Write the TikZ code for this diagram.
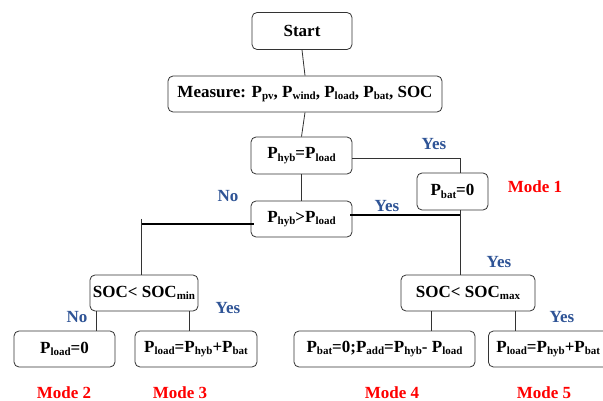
\documentclass[tikz,border=0pt]{standalone}
\usepackage{fontspec}
\setmainfont{Liberation Serif}
\newcommand\subtx[1]{\raisebox{-0.3ex}{\fontsize{11}{11}\selectfont\bfseries #1}}
\definecolor{lblblue}{RGB}{47,84,150}
\begin{document}
\begin{tikzpicture}[x=1pt,y=-1pt,
  box/.style={draw=black!80,line width=0.8pt,rounded corners=5pt,inner sep=0pt,
    font=\fontsize{17}{17}\selectfont\bfseries},
  conn/.style={draw=black!80,line width=0.8pt},
  thick conn/.style={draw=black,line width=1.8pt},
  lbl/.style={text=lblblue,font=\fontsize{17}{17}\selectfont\bfseries,inner sep=0pt},
  mode/.style={text=red,font=\fontsize{17}{17}\selectfont\bfseries,inner sep=0pt}]
\useasboundingbox (0,0) rectangle (603,401);
\clip (0,0) rectangle (603,401);
\fill[white] (0,0) rectangle (603,401);
% nodes
\node[box,minimum width=100pt,minimum height=37pt] (start) at (302,31) {Start};
\node[box,minimum width=274pt,minimum height=36pt] (measure) at (305,94)
  {Measure: P\subtx{pv}, P\subtx{wind}, P\subtx{load}, P\subtx{bat}, SOC};
\node[box,minimum width=101pt,minimum height=37pt] (eq) at (301.5,155.5) {P\subtx{hyb}=P\subtx{load}};
\node[box,minimum width=71pt,minimum height=37pt] (pbat) at (452.5,191.5) {P\subtx{bat}=0};
\node[box,minimum width=101pt,minimum height=36pt] (gt) at (301.5,219) {P\subtx{hyb}>P\subtx{load}};
\node[box,minimum width=108pt,minimum height=36pt] (socmin) at (144,293) {SOC< SOC\subtx{min}};
\node[box,minimum width=134pt,minimum height=36pt] (socmax) at (468,293) {SOC< SOC\subtx{max}};
\node[box,minimum width=101pt,minimum height=36pt] (m2) at (64.5,349) {P\subtx{load}=0};
\node[box,minimum width=122pt,minimum height=36pt] (m3) at (196,349) {P\subtx{load}=P\subtx{hyb}+P\subtx{bat}};
\node[box,minimum width=181pt,minimum height=36pt] (m4) at (384.5,349) {P\subtx{bat}=0;P\subtx{add}=P\subtx{hyb}- P\subtx{load}};
\node[box,minimum width=122pt,minimum height=36pt,anchor=west,text width=118pt,align=left] (m5) at (488,349) {\hspace{6pt}P\subtx{load}=P\subtx{hyb}+P\subtx{bat}};
% coordinates
\coordinate (c1) at (460,158);
\coordinate (c2) at (460,215);
\coordinate (c3) at (141,224);
\coordinate (c4) at (141,219);
\coordinate (d2) at (96,0);
\coordinate (d3) at (189,0);
\coordinate (d4) at (431,0);
\coordinate (d5) at (515,0);
% connectors
\draw[conn] (start.south) -- (measure.north);
\draw[conn] (measure.south) -- (eq.north);
\draw[conn] (eq.south) -- (gt.north);
\draw[conn] (eq.east |- c1) -- (c1) -- (pbat.north -| c1);
\draw[conn] (pbat.south -| c1) -- (socmax.north -| c1);
\draw[thick conn] ([xshift=-2pt]gt.east |- c2) -- (c2);
\draw[thick conn] ([xshift=3pt]gt.west |- c3) -- (c3);
\draw[conn] (c4) -- (socmin.north -| c4);
\draw[conn] (socmin.south -| d2) -- (m2.north -| d2);
\draw[conn] (socmin.south -| d3) -- (m3.north -| d3);
\draw[conn] (socmax.south -| d4) -- (m4.north -| d4);
\draw[conn] (socmax.south -| d5) -- (m5.north -| d5);
% labels
\node[lbl] (y1) at (434,144) {Yes};
\node[lbl] (n1) at (228,196) {No};
\node[lbl] (y2) at (387,206) {Yes};
\node[lbl] (y3) at (499,262) {Yes};
\node[lbl] (n2) at (77,317) {No};
\node[lbl] (y4) at (228,308) {Yes};
\node[lbl] (y5) at (562,317) {Yes};
\node[mode] (md1) at (535,187) {Mode 1};
\node[mode] (md2) at (64,393) {Mode 2};
\node[mode] (md3) at (180,393) {Mode 3};
\node[mode] (md4) at (392,393) {Mode 4};
\node[mode] (md5) at (544,393) {Mode 5};
\end{tikzpicture}
\end{document}
